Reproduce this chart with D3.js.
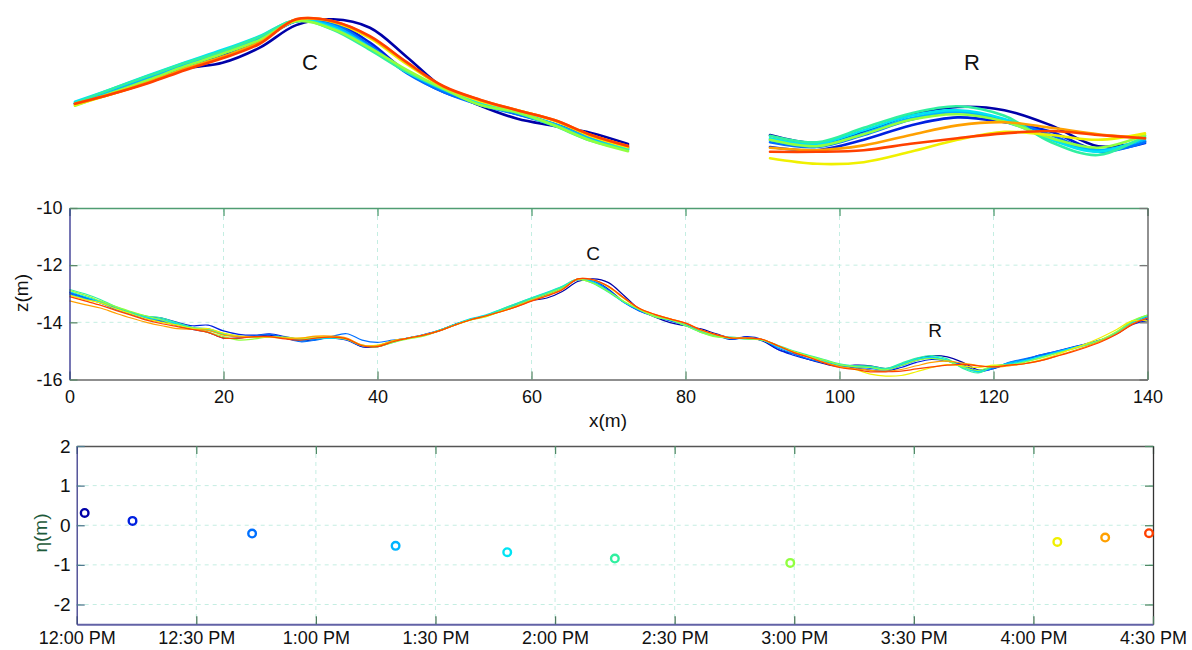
<!DOCTYPE html>
<html><head><meta charset="utf-8">
<script src="https://cdn.jsdelivr.net/npm/d3@7"></script>
<style>
body{margin:0;background:#fff;}
svg{display:block;font-family:Arial,"Liberation Sans",sans-serif;}
</style>
</head><body>
<svg id="chart" width="1192" height="650"></svg>
<script>
// ---------------- DATA ----------------
const xPositions = [0,2,4,6,8,10,12,14,16,18,20,22,24,26,28,30,32,34,36,38,40,42,44,46,48,50,52,
  54,56,58,60,62,64,66,68,70,72,74,76,78,80,82,84,
  86,88,90,92,94,96,98,100,102,
  104,106,108,110,112,114,116,118,120,
  122,124,126,128,130,132,134,136,138,140];

const z_1202 = [-12.95,-13.12,-13.28,-13.50,-13.70,-13.88,-13.98,-14.10,-14.25,-14.35,-14.55,-14.55,-14.48,-14.45,-14.55,-14.65,-14.60,-14.52,-14.58,-14.85,-14.85,-14.68,-14.55,-14.45,-14.30,-14.08,-13.90,
 -13.78,-13.61,-13.43,-13.24,-13.15,-12.92,-12.57,-12.48,-12.61,-13.06,-13.54,-13.81,-14.01,-14.12,-14.23,-14.40,
 -14.55,-14.52,-14.65,-14.95,-15.10,-15.30,-15.45,-15.55,-15.50,
 -15.52,-15.62,-15.48,-15.27,-15.17,-15.21,-15.40,-15.66,-15.60,
 -15.45,-15.30,-15.18,-15.05,-14.90,-14.78,-14.62,-14.40,-14.05,-13.90];
const z_1214 = [-13.00,-13.15,-13.30,-13.48,-13.65,-13.80,-13.85,-14.00,-14.12,-14.10,-14.30,-14.42,-14.45,-14.40,-14.50,-14.60,-14.58,-14.55,-14.62,-14.85,-14.82,-14.68,-14.55,-14.43,-14.28,-14.08,-13.90,
 -13.78,-13.60,-13.40,-13.20,-13.03,-12.81,-12.51,-12.52,-12.84,-13.29,-13.60,-13.78,-13.94,-14.09,-14.29,-14.46,
 -14.60,-14.50,-14.60,-14.95,-15.15,-15.30,-15.40,-15.50,-15.60,
 -15.67,-15.71,-15.58,-15.40,-15.30,-15.36,-15.48,-15.71,-15.62,
 -15.42,-15.30,-15.15,-15.02,-14.88,-14.75,-14.60,-14.40,-14.08,-13.95];
const z_1244 = [-12.95,-13.15,-13.32,-13.55,-13.72,-13.88,-13.95,-14.10,-14.22,-14.25,-14.42,-14.50,-14.48,-14.42,-14.55,-14.68,-14.62,-14.50,-14.40,-14.62,-14.70,-14.62,-14.55,-14.45,-14.30,-14.10,-13.92,
 -13.77,-13.58,-13.38,-13.18,-13.00,-12.78,-12.51,-12.55,-12.88,-13.31,-13.60,-13.80,-13.94,-14.11,-14.31,-14.46,
 -14.58,-14.55,-14.62,-14.90,-15.10,-15.28,-15.42,-15.52,-15.56,
 -15.61,-15.67,-15.52,-15.33,-15.23,-15.33,-15.52,-15.73,-15.61,
 -15.40,-15.28,-15.15,-15.02,-14.90,-14.76,-14.62,-14.40,-14.05,-13.80];
const z_1320 = [-13.02,-13.18,-13.32,-13.52,-13.70,-13.85,-13.92,-14.05,-14.20,-14.22,-14.40,-14.48,-14.52,-14.50,-14.55,-14.62,-14.58,-14.55,-14.58,-14.82,-14.82,-14.65,-14.55,-14.45,-14.28,-14.08,-13.90,
 -13.77,-13.57,-13.37,-13.17,-12.98,-12.77,-12.51,-12.58,-12.91,-13.29,-13.57,-13.78,-13.91,-14.09,-14.32,-14.48,
 -14.55,-14.55,-14.62,-14.85,-15.05,-15.20,-15.35,-15.50,-15.55,
 -15.58,-15.66,-15.50,-15.31,-15.23,-15.35,-15.56,-15.71,-15.58,
 -15.42,-15.32,-15.20,-15.05,-14.90,-14.78,-14.62,-14.38,-14.02,-13.85];
const z_1348 = [-12.92,-13.10,-13.28,-13.48,-13.68,-13.82,-13.90,-14.05,-14.18,-14.25,-14.40,-14.50,-14.50,-14.52,-14.55,-14.58,-14.55,-14.55,-14.60,-14.82,-14.82,-14.66,-14.55,-14.45,-14.28,-14.08,-13.88,
 -13.75,-13.55,-13.34,-13.14,-12.95,-12.74,-12.49,-12.61,-12.92,-13.29,-13.55,-13.78,-13.91,-14.11,-14.34,-14.48,
 -14.55,-14.58,-14.62,-14.85,-15.05,-15.18,-15.35,-15.48,-15.52,
 -15.56,-15.63,-15.46,-15.28,-15.21,-15.32,-15.58,-15.73,-15.55,
 -15.45,-15.35,-15.20,-15.08,-14.92,-14.78,-14.62,-14.38,-14.00,-13.78];
const z_1415 = [-12.85,-13.00,-13.20,-13.45,-13.65,-13.78,-13.85,-14.02,-14.18,-14.28,-14.40,-14.50,-14.52,-14.50,-14.55,-14.58,-14.55,-14.52,-14.58,-14.80,-14.85,-14.70,-14.55,-14.45,-14.28,-14.08,-13.90,
 -13.77,-13.55,-13.35,-13.15,-12.97,-12.75,-12.49,-12.64,-12.95,-13.29,-13.55,-13.80,-13.92,-14.12,-14.35,-14.49,
 -14.52,-14.58,-14.62,-14.80,-15.00,-15.15,-15.30,-15.45,-15.52,
 -15.53,-15.61,-15.43,-15.25,-15.16,-15.28,-15.61,-15.77,-15.53,
 -15.48,-15.38,-15.25,-15.10,-14.95,-14.80,-14.62,-14.35,-13.98,-13.75];
const z_1459 = [-12.88,-13.05,-13.25,-13.45,-13.62,-13.78,-13.92,-14.10,-14.22,-14.35,-14.50,-14.62,-14.58,-14.50,-14.52,-14.58,-14.55,-14.52,-14.60,-14.82,-14.85,-14.70,-14.58,-14.48,-14.30,-14.10,-13.92,
 -13.81,-13.61,-13.41,-13.20,-13.01,-12.80,-12.51,-12.63,-12.92,-13.26,-13.55,-13.80,-13.91,-14.11,-14.35,-14.51,
 -14.55,-14.58,-14.62,-14.82,-15.02,-15.18,-15.32,-15.48,-15.55,
 -15.58,-15.66,-15.51,-15.33,-15.26,-15.35,-15.56,-15.68,-15.52,
 -15.50,-15.40,-15.25,-15.10,-14.95,-14.78,-14.60,-14.32,-13.95,-13.75];
const z_1606 = [-13.05,-13.20,-13.32,-13.52,-13.70,-13.88,-14.00,-14.10,-14.20,-14.22,-14.38,-14.48,-14.50,-14.52,-14.55,-14.55,-14.50,-14.52,-14.58,-14.80,-14.80,-14.65,-14.55,-14.45,-14.30,-14.10,-13.92,
 -13.80,-13.63,-13.45,-13.24,-13.06,-12.84,-12.49,-12.52,-12.77,-13.17,-13.52,-13.74,-13.88,-14.04,-14.28,-14.45,
 -14.55,-14.55,-14.60,-14.82,-15.02,-15.20,-15.40,-15.55,-15.65,
 -15.81,-15.88,-15.86,-15.73,-15.58,-15.48,-15.52,-15.58,-15.50,
 -15.50,-15.45,-15.32,-15.15,-14.95,-14.75,-14.52,-14.25,-13.95,-13.95];
const z_1618 = [-13.25,-13.38,-13.50,-13.68,-13.85,-14.00,-14.12,-14.22,-14.25,-14.28,-14.45,-14.50,-14.52,-14.50,-14.55,-14.55,-14.48,-14.48,-14.55,-14.80,-14.82,-14.65,-14.55,-14.45,-14.30,-14.10,-13.92,
 -13.78,-13.63,-13.45,-13.24,-13.06,-12.84,-12.48,-12.51,-12.75,-13.15,-13.52,-13.72,-13.88,-14.03,-14.26,-14.43,
 -14.55,-14.55,-14.60,-14.82,-15.05,-15.22,-15.40,-15.55,-15.62,
 -15.68,-15.71,-15.65,-15.52,-15.40,-15.36,-15.43,-15.51,-15.56,
 -15.52,-15.45,-15.35,-15.20,-15.02,-14.85,-14.65,-14.40,-14.05,-13.85];
const z_1629 = [-13.10,-13.25,-13.40,-13.58,-13.75,-13.92,-14.05,-14.15,-14.25,-14.35,-14.55,-14.55,-14.50,-14.50,-14.58,-14.62,-14.55,-14.52,-14.58,-14.82,-14.85,-14.68,-14.55,-14.45,-14.30,-14.10,-13.92,
 -13.78,-13.63,-13.46,-13.26,-13.08,-12.86,-12.48,-12.51,-12.74,-13.14,-13.51,-13.72,-13.88,-14.03,-14.26,-14.43,
 -14.55,-14.55,-14.60,-14.82,-15.05,-15.22,-15.42,-15.58,-15.65,
 -15.73,-15.73,-15.71,-15.63,-15.56,-15.50,-15.47,-15.52,-15.56,
 -15.50,-15.45,-15.35,-15.20,-15.05,-14.88,-14.68,-14.42,-14.08,-13.85];

const surveyTimes = ["12:02","12:14","12:44","13:20","13:48","14:15","14:59","16:06","16:18","16:29"];
const etaValues = [0.31, 0.11, -0.21, -0.52, -0.68, -0.84, -0.95, -0.42, -0.31, -0.20];
const seriesColors = ["#0000a8","#0020e0","#0070ff","#00b4ff","#00e4f4","#30f0a0","#90ff40","#f0f000","#ffa000","#ff4000"];

const xTicks = [0,20,40,60,80,100,120,140];
const zTicks = [-16,-14,-12,-10];
const etaTicks = [-2,-1,0,1,2];
const timeRange = ["12:00","16:30"];

// ---------------- BUILD ----------------
const profiles = [z_1202,z_1214,z_1244,z_1320,z_1348,z_1415,z_1459,z_1606,z_1618,z_1629];
const series = profiles.map((zs,i)=>({color:seriesColors[i], pts: xPositions.map((x,j)=>({x, z:zs[j]}))}));
const svg = d3.select("#chart");
const parseT = d3.timeParse("%Y-%m-%d %H:%M");
const t = s => parseT("2000-01-01 " + s);

// ---------- insets ----------
function inset(xDom, xRange, zDom, yRange, label, labelPos){
  const sx = d3.scaleLinear().domain(xDom).range(xRange);
  const sy = d3.scaleLinear().domain(zDom).range(yRange);
  const line = d3.line().x(d=>sx(d.x)).y(d=>sy(d.z)).curve(d3.curveCatmullRom.alpha(0.5));
  const g = svg.append("g");
  series.forEach(s=>{
    g.append("path").datum(s.pts.filter(p=>p.x>=xDom[0]&&p.x<=xDom[1]))
      .attr("d",line).attr("fill","none").attr("stroke",s.color)
      .attr("stroke-width",2.6).attr("stroke-linejoin","round").attr("stroke-linecap","round");
  });
  g.append("text").attr("x",labelPos[0]).attr("y",labelPos[1]).attr("text-anchor","middle")
    .attr("dy","0.35em").attr("font-size",22).attr("fill","#111").text(label);
}
inset([54,84],[75,628],[-12.46,-14.46],[18,148],"C",[310,62]);
inset([104,120],[770,1145],[-15.17,-15.92],[107,167],"R",[972,62]);

// ---------- middle chart ----------
const mL=69.5, mR=1147.5, mT=208, mB=379.5;
const mx = d3.scaleLinear().domain([0,140]).range([mL,mR]);
const my = d3.scaleLinear().domain([-16,-10]).range([mB,mT]);
const mg = svg.append("g");
const gridCol = "#c4eee2";
xTicks.slice(1,-1).forEach(v=>mg.append("line").attr("x1",mx(v)).attr("x2",mx(v)).attr("y1",mT).attr("y2",mB)
  .attr("stroke",gridCol).attr("stroke-dasharray","4,4").attr("stroke-width",1));
zTicks.slice(1,-1).forEach(v=>mg.append("line").attr("x1",mL).attr("x2",mR).attr("y1",my(v)).attr("y2",my(v))
  .attr("stroke",gridCol).attr("stroke-dasharray","4,4").attr("stroke-width",1));

const mline = d3.line().x(d=>mx(d.x)).y(d=>my(d.z)).curve(d3.curveCatmullRom.alpha(0.5));
series.forEach(s=>{
  mg.append("path").datum(s.pts).attr("d",mline).attr("fill","none")
    .attr("stroke",s.color).attr("stroke-width",1.2);
});

function styleAxis(g, domainCol, tickCol, font){
  g.select(".domain").attr("stroke",domainCol).attr("stroke-width",1.3);
  g.selectAll(".tick line").attr("stroke",tickCol).attr("stroke-width",1.3);
  g.selectAll(".tick text").attr("fill","#111").attr("font-size",font)
   .attr("font-family","Arial, 'Liberation Sans', sans-serif");
}
const fmtInt = d => String(d);
let a;
a = mg.append("g").attr("transform",`translate(0,${mT})`)
  .call(d3.axisTop(mx).tickValues(xTicks).tickSizeInner(-8).tickSizeOuter(0).tickFormat(""));
styleAxis(a,"#4f9d72","#4f9d72",18);
a = mg.append("g").attr("transform",`translate(${mR},0)`)
  .call(d3.axisRight(my).tickValues(zTicks).tickSizeInner(-8).tickSizeOuter(0).tickFormat(""));
styleAxis(a,"#555","#777",18);
a = mg.append("g").attr("transform",`translate(0,${mB})`)
  .call(d3.axisBottom(mx).tickValues(xTicks).tickSizeInner(-8).tickSizeOuter(0).tickPadding(11).tickFormat(fmtInt));
styleAxis(a,"#6a6a6a","#5a8a6a",18);
a = mg.append("g").attr("transform",`translate(${mL},0)`)
  .call(d3.axisLeft(my).tickValues(zTicks).tickSizeInner(-8).tickSizeOuter(0).tickPadding(7).tickFormat(fmtInt));
styleAxis(a,"#2c2c8c","#5a8a6a",18);

mg.append("text").attr("x",608).attr("y",420).attr("text-anchor","middle").attr("dy","0.35em")
  .attr("font-size",19).attr("fill","#111").text("x(m)");
mg.append("text").attr("transform","translate(21,293) rotate(-90)").attr("text-anchor","middle").attr("dy","0.35em")
  .attr("font-size",19).attr("fill","#111").text("z(m)");
mg.append("text").attr("x",593).attr("y",253).attr("text-anchor","middle").attr("dy","0.35em")
  .attr("font-size",19).attr("fill","#111").text("C");
mg.append("text").attr("x",935).attr("y",330).attr("text-anchor","middle").attr("dy","0.35em")
  .attr("font-size",19).attr("fill","#111").text("R");

// ---------- bottom chart ----------
const bL=76.7, bR=1153, bT=446, bB=624.3;
const bx = d3.scaleTime().domain(timeRange.map(t)).range([bL,bR]);
const by = d3.scaleLinear().domain([-2.5,2]).range([bB,bT]);
const bg = svg.append("g");
const timeTicks = bx.ticks(d3.timeMinute.every(30));
timeTicks.slice(1,-1).forEach(v=>bg.append("line").attr("x1",bx(v)).attr("x2",bx(v)).attr("y1",bT).attr("y2",bB)
  .attr("stroke",gridCol).attr("stroke-dasharray","4,4"));
etaTicks.slice(0,-1).forEach(v=>bg.append("line").attr("x1",bL).attr("x2",bR).attr("y1",by(v)).attr("y2",by(v))
  .attr("stroke",gridCol).attr("stroke-dasharray","4,4"));

a = bg.append("g").attr("transform",`translate(0,${bT})`)
  .call(d3.axisTop(bx).ticks(d3.timeMinute.every(30)).tickSizeInner(-8).tickSizeOuter(0).tickFormat(""));
styleAxis(a,"#555","#4e8a66",18);
a = bg.append("g").attr("transform",`translate(${bR},0)`)
  .call(d3.axisRight(by).tickValues(etaTicks).tickSizeInner(-8).tickSizeOuter(0).tickFormat(""));
styleAxis(a,"#333","#4e8a66",18);
a = bg.append("g").attr("transform",`translate(0,${bB})`)
  .call(d3.axisBottom(bx).ticks(d3.timeMinute.every(30)).tickSizeInner(-8).tickSizeOuter(0).tickPadding(7)
    .tickFormat(d3.timeFormat("%-I:%M %p")));
styleAxis(a,"#6262a6","#4e7a5e",18);
a.select(".domain").attr("stroke-width",2);
a = bg.append("g").attr("transform",`translate(${bL},0)`)
  .call(d3.axisLeft(by).tickValues(etaTicks).tickSizeInner(-8).tickSizeOuter(0).tickPadding(6).tickFormat(fmtInt));
styleAxis(a,"#3a3a8a","#4e7a8e",19);

bg.selectAll("circle.pt").data(surveyTimes.map((s,i)=>({t:t(s), e:etaValues[i], c:seriesColors[i]})))
  .enter().append("circle").attr("class","pt")
  .attr("cx",d=>bx(d.t)).attr("cy",d=>by(d.e)).attr("r",3.8)
  .attr("fill","#fff").attr("stroke",d=>d.c).attr("stroke-width",2.4);

bg.append("text").attr("transform","translate(40,533) rotate(-90)").attr("text-anchor","middle").attr("dy","0.35em")
  .attr("font-size",19).attr("fill","#1d5a3a").text("η(m)");
</script>
</body></html>
